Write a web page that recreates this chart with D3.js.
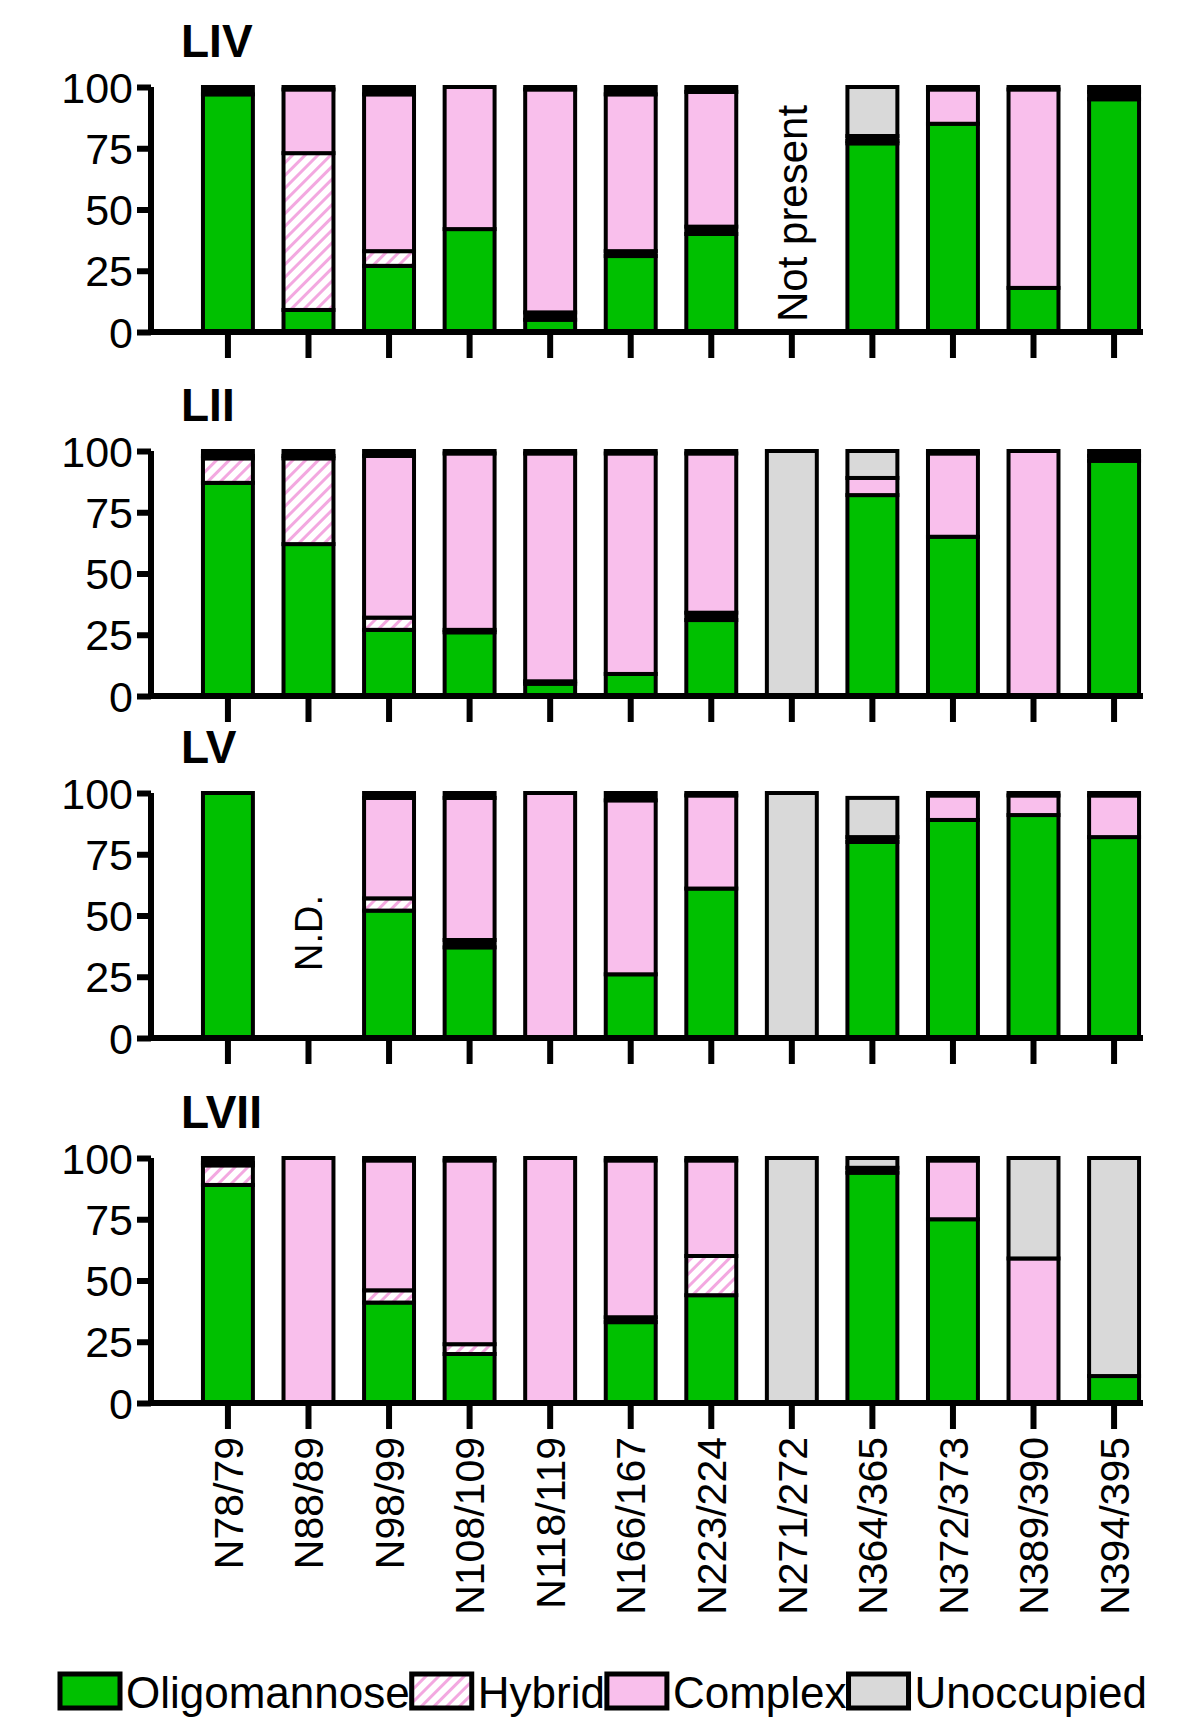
<!DOCTYPE html><html><head><meta charset="utf-8">
<script src="https://cdn.jsdelivr.net/npm/d3@7"></script>
<style>body{margin:0;background:#fff}</style></head><body>
<svg id="c" width="1184" height="1722"></svg>
<script>
const categories=["N78/79","N88/89","N98/99","N108/109","N118/119","N166/167","N223/224","N271/272","N364/365","N372/373","N389/390","N394/395"];
const seriesNames=["Oligomannose","Hybrid","Complex","Unoccupied"];
const panelNames=["LIV","LII","LV","LVII"];
const yTicks=[0,25,50,75,100];
// each entry: [oligomannose, hybrid, complex, unoccupied]; null = no bar
const LIV=[[97,0,0,3],[9,64,26,1],[27,6,64,3],[42,0,58,0],[5,3,91,1],[31,2,64,3],[40,3,55,2],null,[77,1,2,20],[85,0,14,1],[18,0,81,1],[95,0,3,2]];
const LII=[[87,10,1,2],[62,35,1,2],[27,5,66,2],[26,1,72,1],[5,1,93,1],[9,0,90,1],[31,3,65,1],[0,0,0,100],[82,0,7,11],[65,0,34,1],[0,0,100,0],[96,0,2,2]];
const LV=[[100,0,0,0],null,[52,5,41,2],[37,3,58,2],[0,0,100,0],[26,0,71,3],[61,0,38,1],[0,0,0,100],[80,0,2,16],[89,0,10,1],[91,0,8,1],[82,0,17,1]];
const LVII=[[89,8,1,2],[0,0,100,0],[41,5,53,1],[20,4,75,1],[0,0,100,0],[33,2,64,1],[44,16,39,1],[0,0,0,100],[94,0,2,4],[75,0,24,1],[0,0,59,41],[11,0,0,89]];
const panelData=[LIV,LII,LV,LVII];
const notes=[{panel:0,cat:"N271/272",text:"Not present"},{panel:2,cat:"N88/89",text:"N.D."}];

const svg=d3.select("#c");
const defs=svg.append("defs");
const pat=defs.append("pattern").attr("id","hatch").attr("patternUnits","userSpaceOnUse").attr("width",9).attr("height",9).attr("patternTransform","rotate(-45)");
pat.append("rect").attr("width",9).attr("height",9).attr("fill","#fff");
pat.append("rect").attr("width",9).attr("height",3).attr("fill","#f3a8e0");
const fills=["#00c000","url(#hatch)","#f9bfec","#d9d9d9"];
const font="Liberation Sans, Arial, sans-serif";
const x=d3.scaleBand().domain(categories).range([151,1191]).paddingInner(0.38).paddingOuter(0.645);
const panelTops=[87,451,793,1158];
const ph=245;
panelTops.forEach((top,p)=>{
  const y=d3.scaleLinear().domain([0,100]).range([top+ph,top]);
  const g=svg.append("g");
  g.append("text").attr("x",181).attr("y",top-30).attr("font-family",font).attr("font-weight","bold").attr("font-size",46).text(panelNames[p]);
  panelData[p].forEach((d,i)=>{
    if(!d)return;
    const st=d3.stack().keys([0,1,2,3])([d]);
    st.forEach((s,k)=>{
      const v=s[0]; if(v[1]-v[0]<=0)return;
      const thin=(v[1]-v[0])<4;
      g.append("rect").attr("x",x(categories[i])).attr("width",x.bandwidth())
        .attr("y",y(v[1])).attr("height",y(v[0])-y(v[1]))
        .attr("fill",thin?"#000":fills[k]).attr("stroke","#000").attr("stroke-width",4);
    });
  });
  const ya=g.append("g").attr("transform","translate(151,0)").call(d3.axisLeft(y).tickValues(yTicks).tickSize(14).tickPadding(4));
  ya.select(".domain").attr("stroke-width",6).attr("d",`M0,${top}V${top+ph}`);
  ya.selectAll(".tick line").attr("stroke-width",6);
  ya.selectAll("text").attr("font-family",font).attr("font-size",43).attr("dy","0.35em");
  const xa=g.append("g").attr("transform",`translate(0,${top+ph})`).call(d3.axisBottom(x).tickSize(26).tickFormat(p===3?null:""));
  xa.select(".domain").attr("stroke-width",6).attr("d",`M148,0H1143`);
  xa.selectAll(".tick line").attr("stroke-width",6);
  if(p===3){
    xa.selectAll("text").attr("font-family",font).attr("font-size",41)
      .attr("transform","rotate(-90)").attr("text-anchor","end").attr("x",-34).attr("y",0).attr("dy","0.36em");
  }
  notes.filter(n=>n.panel===p).forEach(n=>{
    g.append("text").attr("transform",`translate(${x(n.cat)+x.bandwidth()/2},${p===0?top+ph-10:top+178}) rotate(-90)`)
      .attr("dy","0.36em").attr("font-family",font).attr("font-size",p===0?42:38).text(n.text);
  });
});
const lg=svg.append("g");
let lx=60;
seriesNames.forEach((n,k)=>{
  lg.append("rect").attr("x",lx).attr("y",1674).attr("width",60).attr("height",34).attr("fill",fills[k]).attr("stroke","#000").attr("stroke-width",5);
  const t=lg.append("text").attr("x",lx+66).attr("y",1708).attr("font-family",font).attr("font-size",44).text(n);
  lx+=66+t.node().getComputedTextLength()+2;
});
</script></body></html>
